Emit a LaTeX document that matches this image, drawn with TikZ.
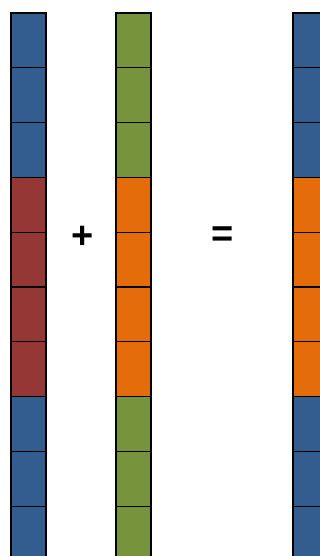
\documentclass[tikz,border=0pt]{standalone}
\usepackage{fontspec}
\setmainfont{Liberation Sans}
\definecolor{cblue}{RGB}{51,93,142}
\definecolor{cred}{RGB}{149,55,53}
\definecolor{cgreen}{RGB}{119,147,60}
\definecolor{corange}{RGB}{228,108,10}
\begin{document}
\begin{tikzpicture}[x=1pt,y=-1pt,
  cell/.style={draw=black,line width=1.2pt,minimum width=35pt,minimum height=54.8pt,inner sep=0pt,outer sep=0pt,anchor=north west},
  sym/.style={font=\bfseries\fontsize{38}{40}\selectfont,inner sep=0pt}]
\useasboundingbox (0,0) rectangle (320,556);
\foreach \i/\ca/\cb/\cc in {0/cblue/cgreen/cblue,1/cblue/cgreen/cblue,2/cblue/cgreen/cblue,
  3/cred/corange/corange,4/cred/corange/corange,5/cred/corange/corange,6/cred/corange/corange,
  7/cblue/cgreen/cblue,8/cblue/cgreen/cblue,9/cblue/cgreen/cblue}{
  \node[cell,fill=\ca] (a\i) at (11,13+54.8*\i) {};
  \node[cell,fill=\cb] (b\i) at (116,13+54.8*\i) {};
  \node[cell,fill=\cc] (c\i) at (293,13+54.8*\i) {};
}
\node[sym] (plus) at (83,237) {+};
\node[sym] (eq) at (222.5,237) {=};
\end{tikzpicture}
\end{document}
